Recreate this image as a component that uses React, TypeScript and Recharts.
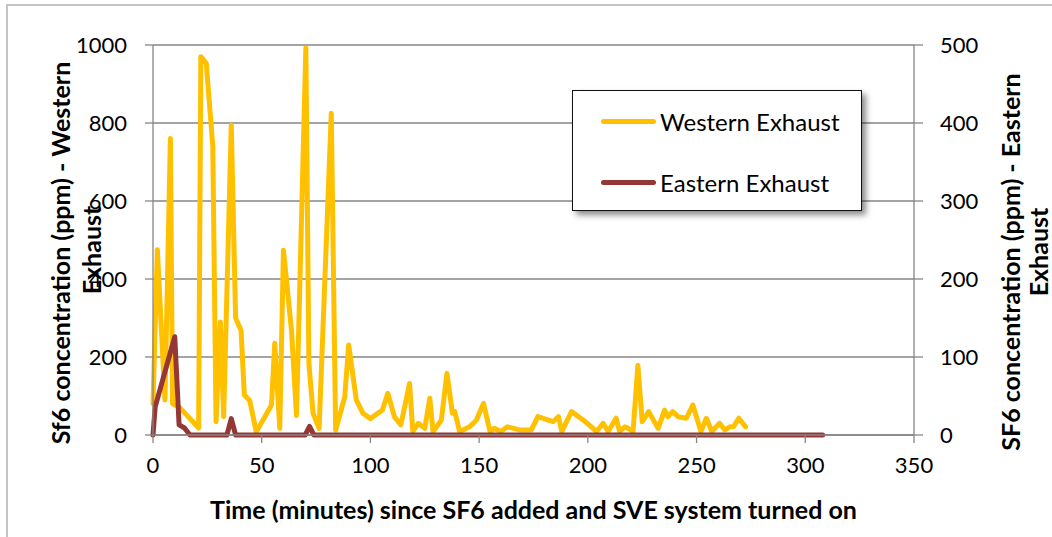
import React from 'react';
import { LineChart, Line, XAxis, YAxis, CartesianGrid } from 'recharts';

// minutes since start
const westernTime = [
  0, 2, 5.5, 8, 9, 12, 21, 22, 24.5, 27.5, 29, 31, 32.5, 36, 38, 40.5, 42, 44.5, 47.5,
  54.5, 56, 58.3, 60, 63.7, 66, 70.3, 71.7, 73.6, 76.4, 82, 84, 88.2, 90, 93.5, 96.5,
  100, 105.5, 108, 111, 114, 118, 119.5, 122, 125, 127.3, 128.8, 132.6, 135.2, 137.7,
  138.8, 141, 145.6, 148.7, 152, 155, 157, 160, 163, 168.5, 174, 177, 184, 186.5, 188,
  192.5, 198, 204, 207, 209.3, 213, 214.6, 217, 218.5, 220.8, 223, 225, 228, 232.3,
  235.3, 236.8, 239, 241.5, 245.3, 248.3, 252, 254.5, 257, 260.6, 263, 265.3, 267,
  269.4, 272.5,
];
const westernPpm = [
  80, 475, 90, 760, 80, 72, 18, 970, 953, 740, 34, 290, 47, 795, 300, 268, 103, 88, 8,
  77, 235, 17, 474, 268, 50, 992, 184, 56, 17, 825, 12, 98, 231, 90, 56,
  42, 64, 107, 47, 26, 132, 9, 30, 17, 94, 9, 38, 158, 56,
  60, 9, 21, 38, 81, 9, 17, 9, 21, 13, 13, 47, 34, 47, 9,
  60, 38, 9, 30, 9, 43, 9, 21, 17, 9, 179, 34, 60, 17,
  64, 47, 60, 47, 43, 77, 9, 43, 9, 30, 13, 21, 21,
  43, 21,
];

const easternTime = [0, 1, 10, 12, 14.5, 17, 34, 36, 38, 70, 72, 74, 308];
const easternPpm = [0, 36, 126, 13, 9, 0, 0, 21, 0, 0, 11, 0, 0];

const timeTicks = [0, 50, 100, 150, 200, 250, 300, 350];
const westernTicks = [0, 200, 400, 600, 800, 1000];
const easternTicks = [0, 100, 200, 300, 400, 500];

const western = westernTime.map((t, i) => ({ t, ppm: westernPpm[i] }));
const eastern = easternTime.map((t, i) => ({ t, ppm: easternPpm[i] }));

const FONT = 'Lato, "Open Sans", sans-serif';
const AXIS = '#868686';
const YELLOW = '#FFC000';
const MAROON = '#953735';

const tickStyle = { fill: '#000', fontSize: 22, fontFamily: FONT };
const titleStyle = { fill: '#000', fontSize: 25, fontWeight: 700, fontFamily: FONT };

const XTitle = ({ viewBox }: any) => (
  <text
    x={viewBox.x + viewBox.width / 2}
    y={viewBox.y + 74}
    textAnchor="middle"
    dominantBaseline="central"
    style={titleStyle}
  >
    Time (minutes) since SF6 added and SVE system turned on
  </text>
);

const RotatedTitle = ({ lines }: { lines: { x: number; y: number; text: string }[] }) => (
  <g>
    {lines.map((l, i) => (
      <text
        key={i}
        x={l.x}
        y={l.y}
        transform={`rotate(-90, ${l.x}, ${l.y})`}
        textAnchor="middle"
        dominantBaseline="central"
        style={titleStyle}
      >
        {l.text}
      </text>
    ))}
  </g>
);

const LeftTitle = ({ viewBox }: any) => (
  <RotatedTitle
    lines={[
      { x: viewBox.x + 60, y: viewBox.y + 208, text: 'Sf6 concentration (ppm) - Western' },
      { x: viewBox.x + 91, y: viewBox.y + 205, text: 'Exhaust' },
    ]}
  />
);

const RightTitle = ({ viewBox }: any) => (
  <RotatedTitle
    lines={[
      { x: viewBox.x + 96, y: viewBox.y + 217, text: 'SF6 concentration (ppm) - Eastern' },
      { x: viewBox.x + 124, y: viewBox.y + 207, text: 'Exhaust' },
    ]}
  />
);

const LegendBox = () => (
  <div
    style={{
      position: 'absolute',
      left: 572,
      top: 90,
      width: 288,
      height: 119,
      background: '#fff',
      border: '1.5px solid #111',
      boxShadow: '4px 4px 6px rgba(0,0,0,0.45)',
      fontFamily: FONT,
      fontSize: 24,
      color: '#000',
    }}
  >
    {[
      { name: 'Western Exhaust', color: YELLOW, top: 30 },
      { name: 'Eastern Exhaust', color: MAROON, top: 91 },
    ].map((item) => (
      <div key={item.name} style={{ position: 'absolute', left: 28, top: item.top - 15, height: 30, display: 'flex', alignItems: 'center' }}>
        <span style={{ display: 'inline-block', width: 55, height: 5, borderRadius: 3, background: item.color }} />
        <span style={{ marginLeft: 4, whiteSpace: 'nowrap' }}>{item.name}</span>
      </div>
    ))}
  </div>
);

export default function App() {
  return (
    <div style={{ position: 'absolute', left: 0, top: 0, width: 1052, height: 537, overflow: 'hidden', background: '#fff' }}>
      <div
        style={{
          position: 'absolute',
          left: 6,
          top: 4,
          width: 1060,
          height: 560,
          border: '2px solid #c4c4c4',
        }}
      />
      <LineChart width={1052} height={537} margin={{ top: 45, right: 0, bottom: 0, left: 0 }} style={{ position: 'absolute', left: 0, top: 0 }}>
        <CartesianGrid yAxisId="left" vertical={false} stroke={AXIS} strokeWidth={1.3} />
        <XAxis
          type="number"
          dataKey="t"
          domain={[0, 350]}
          ticks={timeTicks}
          height={102}
          tick={tickStyle}
          tickSize={8}
          tickMargin={14}
          axisLine={{ stroke: AXIS, strokeWidth: 1.3 }}
          tickLine={{ stroke: AXIS, strokeWidth: 1.3 }}
          label={<XTitle />}
          allowDuplicatedCategory={false}
        />
        <YAxis
          yAxisId="left"
          domain={[0, 1000]}
          ticks={westernTicks}
          width={153}
          tick={tickStyle}
          tickSize={8}
          tickMargin={18}
          axisLine={{ stroke: AXIS, strokeWidth: 1.3 }}
          tickLine={{ stroke: AXIS, strokeWidth: 1.3 }}
          label={<LeftTitle />}
        />
        <YAxis
          yAxisId="right"
          orientation="right"
          domain={[0, 500]}
          ticks={easternTicks}
          width={138}
          tick={tickStyle}
          tickSize={9}
          tickMargin={17}
          axisLine={{ stroke: AXIS, strokeWidth: 1.3 }}
          tickLine={{ stroke: AXIS, strokeWidth: 1.3 }}
          label={<RightTitle />}
        />
        <Line
          yAxisId="left"
          data={western}
          dataKey="ppm"
          name="Western Exhaust"
          type="linear"
          stroke={YELLOW}
          strokeWidth={5}
          strokeLinejoin="round"
          strokeLinecap="round"
          dot={false}
          isAnimationActive={false}
        />
        <Line
          yAxisId="right"
          data={eastern}
          dataKey="ppm"
          name="Eastern Exhaust"
          type="linear"
          stroke={MAROON}
          strokeWidth={5}
          strokeLinejoin="round"
          strokeLinecap="round"
          dot={false}
          isAnimationActive={false}
        />
      </LineChart>
      <LegendBox />
    </div>
  );
}
